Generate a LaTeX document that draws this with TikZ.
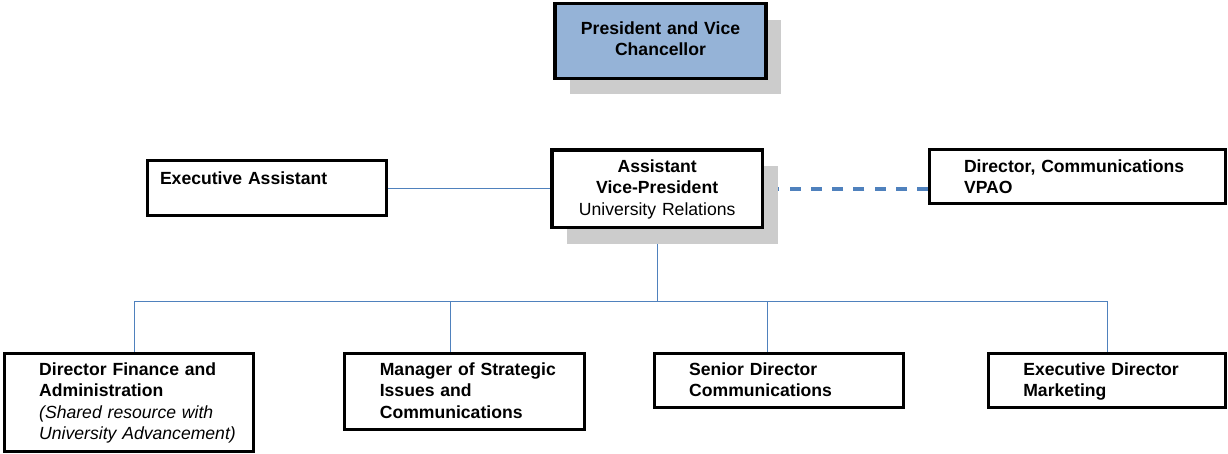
\documentclass[tikz,border=0pt]{standalone}
\usepackage{fontspec}
\setmainfont{Liberation Sans}
\usetikzlibrary{positioning,
        shadows,
        backgrounds}
\definecolor{headblue}{RGB}{149,179,215}
\definecolor{linkblue}{RGB}{79,129,189}
\definecolor{shadowgrey}{RGB}{204,204,204}

\begin{document}
\begin{tikzpicture}[x=1pt,y=-1pt,
        box/.style={draw, line width=3pt, inner sep=0pt, anchor=north west,
                align=left, text height=22.3pt,
                font=\bfseries\fontsize{17.6}{21.4}\selectfont},
        lpad/.style={execute at begin node={\leftskip=#1\relax}},
        head/.style={box, line width=3.6pt, align=center,
                drop shadow={shadow xshift=15pt, shadow yshift=-16pt,
                        fill=shadowgrey, opacity=1}},
        link/.style={draw=linkblue, line width=1pt}]
        \useasboundingbox (0,0) rectangle (1228,453);

        % top of the chart
        \node [head, fill=headblue, text width=211pt, text height=30.8pt, text depth=44pt] (pres) at (553.2,1.7) {President and Vice\\Chancellor};
        \node [head, fill=white, text width=210.7pt, text height=22.2pt, text depth=55.2pt] (avp) at (550,148.3) {Assistant\\Vice-President\\{\mdseries University Relations}};
        \node [box, lpad=12.5pt, text width=239.3pt, text height=23.5pt, text depth=31.8pt] (ea) at (146,159) {Executive Assistant};
        \node [box, lpad=34.2pt, text width=295.4pt, text height=22.5pt, text depth=31.2pt] (dir) at (928.3,148.3) {Director, Communications\\VPAO};

        % reports
        \node [box, lpad=35pt, text width=249.3pt, text depth=75.5pt] (fin) at (2.7,351.7) {Director Finance and\\Administration\\{\mdseries\itshape (Shared resource with\\University Advancement)}};
        \node [box, lpad=35pt, text width=239.2pt, text depth=53.5pt] (mgr) at (343.3,351.7) {Manager of Strategic\\Issues and\\Communications};
        \node [box, lpad=35pt, text width=249.3pt, text depth=31.5pt] (sen) at (652.7,351.7) {Senior Director\\Communications};
        \node [box, lpad=34.5pt, text width=236.7pt, text depth=32pt] (mkt) at (987.3,351.7) {Executive Director\\Marketing};

        \begin{scope}[on background layer]
        \draw [link] (ea.east) -- (ea.east -| avp.west);
        \draw [link, line width=3.5pt, dash pattern=on 11pt off 10.3pt] (dir.west |- avp.east) -- (avp.east);
        \coordinate (bus) at ([yshift=-71.7pt]avp.south);
        \draw [link] (avp.south) -- (bus);
        \draw [link] (bus) -| ([xshift=5.4pt]fin.north);
        \draw [link] (bus) -| ([xshift=-14.4pt]mgr.north);
        \draw [link] (bus) -| ([xshift=-11.2pt]sen.north);
        \draw [link] (bus) -| (mkt.north);
        \end{scope}
\end{tikzpicture}
\end{document}
